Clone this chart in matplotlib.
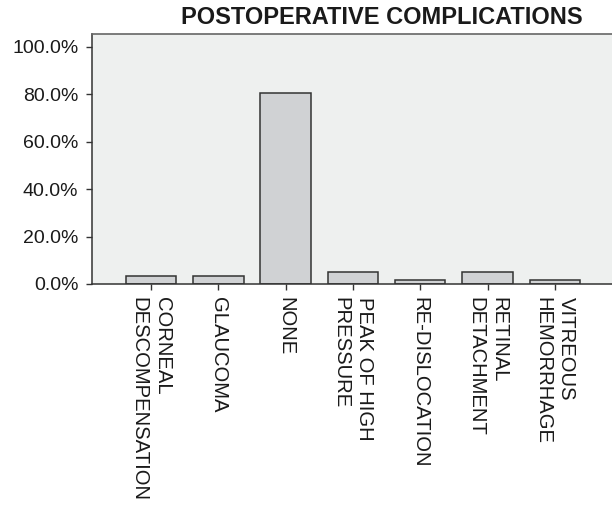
import numpy as np
import matplotlib
matplotlib.use("Agg")
import matplotlib.pyplot as plt
import matplotlib.ticker as ticker

# data (percent of eyes)
categories = ["CORNEAL\nDESCOMPENSATION", "GLAUCOMA", "NONE", "PEAK OF HIGH\nPRESSURE",
              "RE-DISLOCATION", "RETINAL\nDETACHMENT", "VITREOUS\nHEMORRHAGE"]
percents = [3.3, 3.3, 80.3, 4.9, 1.6, 4.9, 1.6]
yTicks = [0, 20, 40, 60, 80, 100]
title = "POSTOPERATIVE COMPLICATIONS"

plt.rcParams["font.family"] = ["Liberation Sans", "DejaVu Sans"]

fig = plt.figure(figsize=[6.12, 5.07], dpi=100)
ax = fig.add_axes([91.5/612, 1-284/507, 1-91.5/612, (284-34)/507])
ax.set_facecolor("#eef0ef")

x = np.arange(len(categories))
ax.bar(x, percents, width=0.75, color="#d0d2d4", edgecolor="#333333", linewidth=1.1, zorder=2)

ax.set_xlim(-0.885, 6.85)
ax.set_ylim(0, 105.3)
ax.set_yticks(yTicks)
ax.yaxis.set_major_formatter(ticker.FuncFormatter(lambda v, p: "%.1f%%" % v))
ax.set_xticks(x)
ax.set_xticklabels(categories, rotation=-90, ha="center", va="top",
                   multialignment="left", linespacing=1.3)

ax.tick_params(axis="both", direction="out", length=4.5, width=1.0, colors="#333333",
               labelcolor="#1a1a1a", labelsize=14, pad=5)
ax.tick_params(axis="x", labelsize=14.6)

# frame
ax.spines["right"].set_visible(False)
ax.spines["top"].set_color("#666666")
ax.spines["top"].set_linewidth(1.2)
ax.spines["left"].set_color("#333333")
ax.spines["bottom"].set_color("#333333")
ax.spines["left"].set_linewidth(1.1)
ax.spines["bottom"].set_linewidth(1.1)

fig.text(382/612, 1-18/507, title, ha="center", va="center", fontsize=17,
         fontweight="bold", color="#1a1a1a")

plt.savefig("out.png", dpi=100)
